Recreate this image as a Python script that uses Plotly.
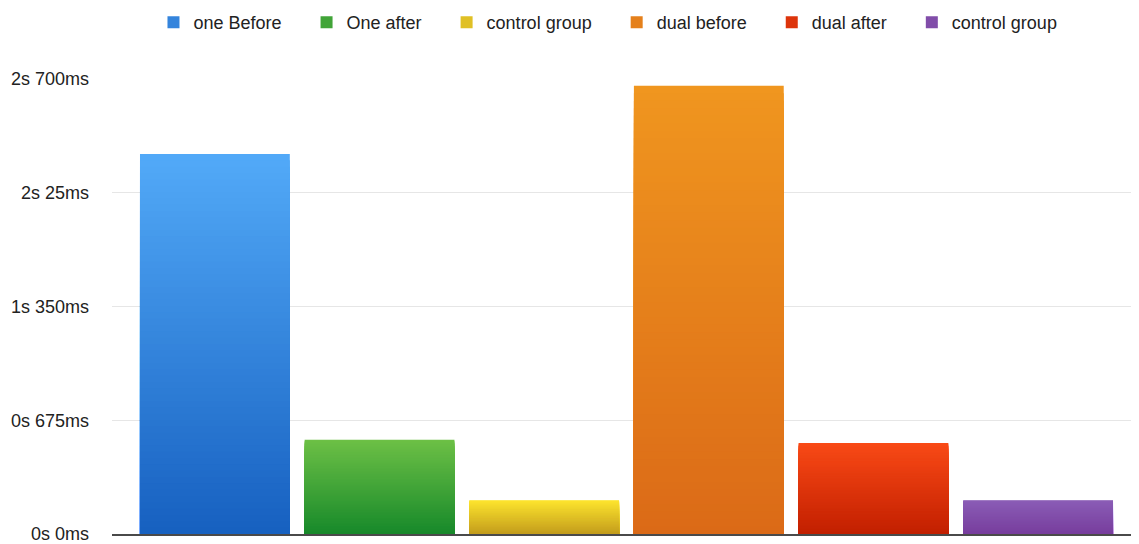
import plotly.graph_objects as go

series_names = ["one Before", "One after", "control group", "dual before", "dual after", "control group"]
values_ms = [2255, 560, 200, 2660, 540, 200]
top_colors = ["#52aaf8", "#6dc046", "#fde52e", "#f0961f", "#f94a16", "#8a5db6"]
bottom_colors = ["#1760c0", "#17892a", "#c39c1c", "#db6a17", "#c21f00", "#783d9d"]
tick_values = [0, 675, 1350, 2025, 2700]
tick_labels = ["0s 0ms", "0s 675ms", "1s 350ms", "2s 25ms", "2s 700ms"]
category = ["Reaction time"]

N = 60
PAD = "\u00a0\u00a0\u00a0\u00a0"


def hex_to_rgb(h):
    h = h.lstrip("#")
    return tuple(int(h[i:i + 2], 16) for i in (0, 2, 4))


def mix(c1, c2, t):
    a, b = hex_to_rgb(c1), hex_to_rgb(c2)
    return "rgb(%d,%d,%d)" % tuple(round(a[k] + (b[k] - a[k]) * t) for k in range(3))


fig = go.Figure()
for i, (name, v) in enumerate(zip(series_names, values_ms)):
    label = name + (PAD if i < len(series_names) - 1 else "")
    # overlapping bars from the baseline, tallest (lightest) first -> vertical gradient
    for s in range(N):
        frac = (N - s) / N
        t = (N - s - 0.5) / N
        col = mix(bottom_colors[i], top_colors[i], t)
        fig.add_trace(go.Bar(
            x=category,
            y=[v * frac],
            name=label,
            offsetgroup=str(i),
            legendgroup=str(i),
            showlegend=(s == N // 2),
            marker=dict(color=col, line=dict(width=0)),
            hoverinfo="skip",
        ))

fig.update_layout(
    width=1139,
    height=544,
    barmode="group",
    bargap=0.04,
    bargroupgap=0.09,
    paper_bgcolor="white",
    plot_bgcolor="white",
    margin=dict(l=104, r=6, t=71, b=18, autoexpand=False),
    font=dict(family="Liberation Sans, Arial, sans-serif", size=18, color="#222222"),
    legend=dict(
        orientation="h",
        x=0.482,
        xanchor="center",
        y=1.124,
        yanchor="middle",
        font=dict(size=18, color="#222222"),
        traceorder="normal",
    ),
    showlegend=True,
)
fig.update_xaxes(
    showticklabels=False,
    showgrid=False,
    showline=True,
    linecolor="#4a4a4a",
    linewidth=2,
    ticks="",
)
fig.update_yaxes(
    range=[0, 2700],
    tickvals=tick_values,
    ticktext=tick_labels,
    showgrid=True,
    gridcolor="#e6e6e6",
    gridwidth=1,
    zeroline=False,
    showline=False,
    ticks="",
    ticklabelstandoff=22,
    tickfont=dict(size=18, color="#222222"),
)

fig.write_html("out.html")
